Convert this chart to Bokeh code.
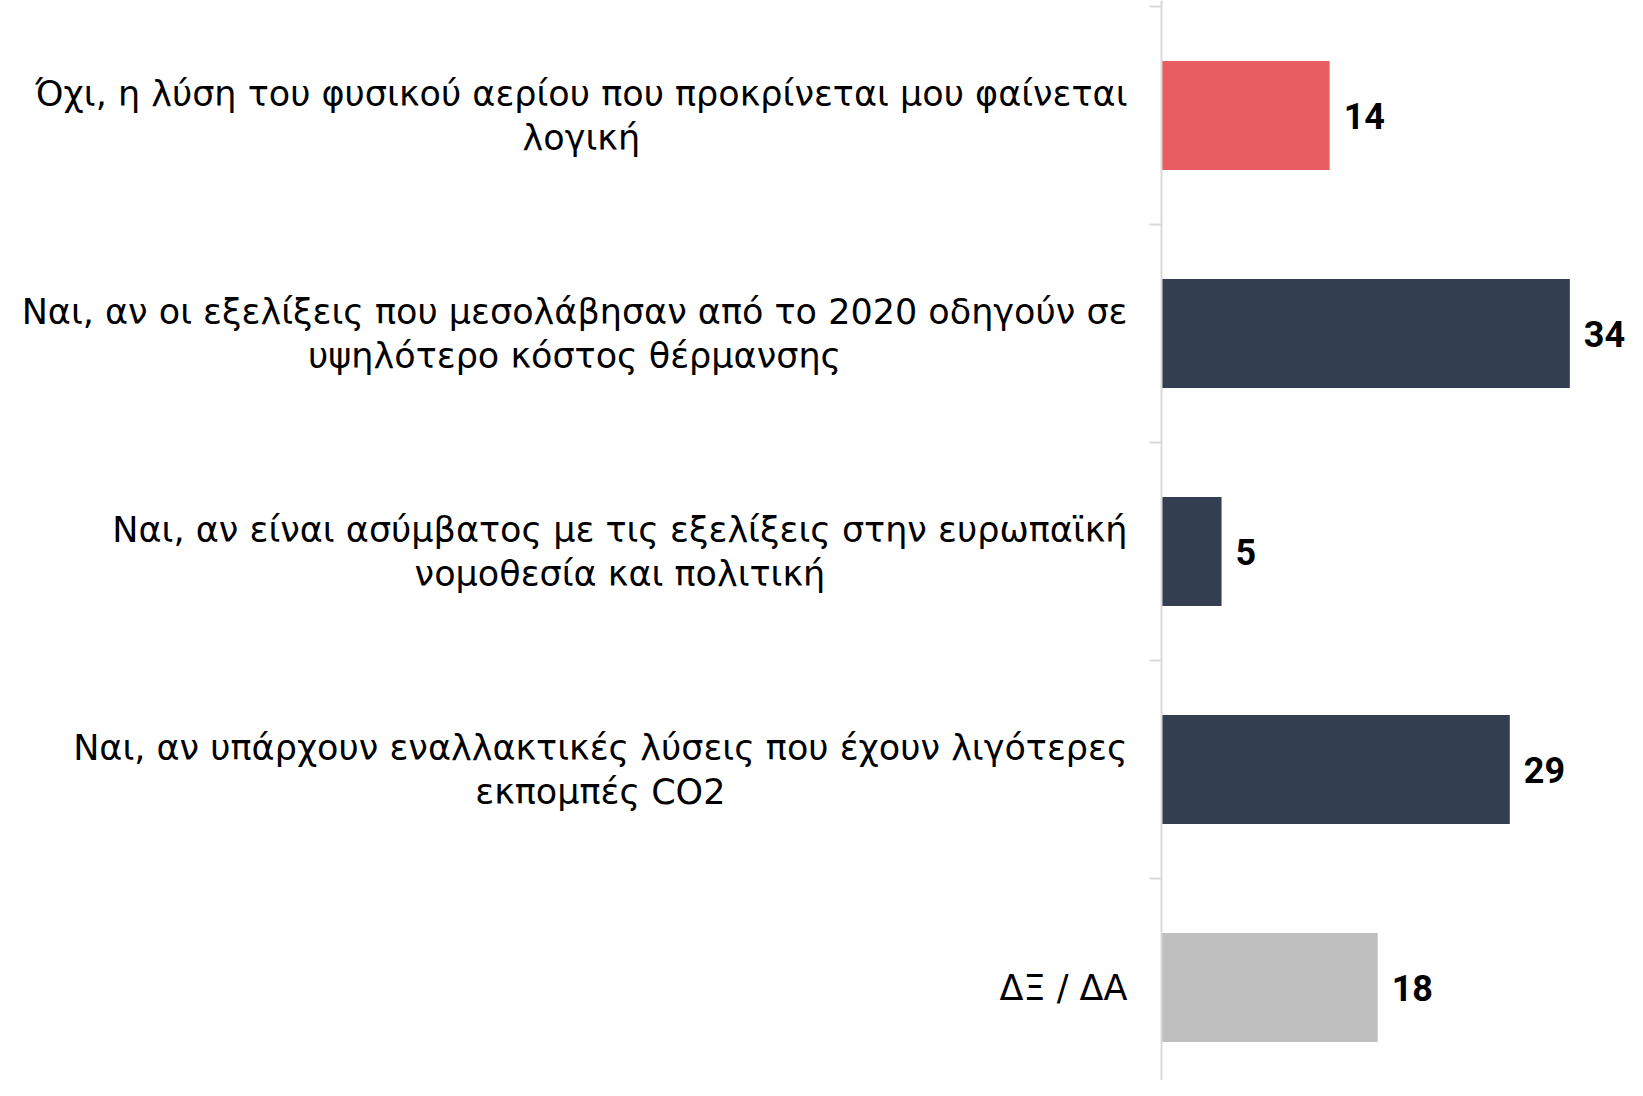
from bokeh.plotting import figure
from bokeh.layouts import row
from bokeh.models import Range1d, FixedTicker, ColumnDataSource
from bokeh.core.properties import value
from bokeh.embed import file_html
from bokeh.resources import INLINE

categories = [
    "Όχι, η λύση του φυσικού αερίου που προκρίνεται μου φαίνεται\nλογική",
    "Ναι, αν οι εξελίξεις που μεσολάβησαν από το 2020 οδηγούν σε\nυψηλότερο κόστος θέρμανσης",
    "Ναι, αν είναι ασύμβατος με τις εξελίξεις στην ευρωπαϊκή\nνομοθεσία και πολιτική",
    "Ναι, αν υπάρχουν εναλλακτικές λύσεις που έχουν λιγότερες\nεκπομπές CO2",
    "ΔΞ / ΔΑ",
]
values = [14, 34, 5, 29, 18]
colors = ["#E85D61", "#333F50", "#333F50", "#333F50", "#BFBFBF"]

n = len(categories)
ypos = [i + 0.5 for i in range(n)]
src = ColumnDataSource(dict(cat=categories, val=values, color=colors, y=ypos,
                            lbl=[str(v) for v in values]))

H = 1080
BAND = 218
TOP = -6 / BAND
y_range = Range1d(TOP + H / BAND, TOP)

LABEL_FONT = "DejaVu Sans"

# left: category labels
LW = 1149
left = figure(width=LW, height=H, x_range=Range1d(0, LW), y_range=y_range,
              output_backend="svg", toolbar_location=None, min_border=0)
left.axis.visible = False
left.grid.visible = False
left.outline_line_color = None
left.text(x=1127, y="y", text="cat", source=src, text_align="center",
          anchor=value("center_right"), text_baseline="middle",
          text_font=value(LABEL_FONT), text_font_size="35px",
          text_color="#000000", text_line_height=1.1)

# right: bars
right = figure(width=1627 - LW, height=H, x_range=Range1d(0, 38.8), y_range=y_range,
               output_backend="svg", toolbar_location=None, min_border=0)
right.hbar(y="y", right="val", left=0, height=0.5, color="color", source=src,
           line_color=None)
right.text(x="val", y="y", text="lbl", source=src, x_offset=14,
           text_baseline="middle", text_align="left",
           text_font=value("Roboto"), text_font_style="bold",
           text_font_size="36px", text_color="#000000")
right.xaxis.visible = False
right.grid.visible = False
right.outline_line_color = None
yax = right.yaxis[0]
yax.ticker = FixedTicker(ticks=list(range(n + 1)))
yax.major_label_overrides = {i: "" for i in range(n + 1)}
yax.major_label_standoff = 0
yax.major_tick_out = 12
yax.major_tick_in = 0
yax.minor_tick_out = 0
yax.minor_tick_in = 0
yax.axis_line_color = "#D9D9D9"
yax.axis_line_width = 2
yax.major_tick_line_color = "#D9D9D9"
yax.major_tick_line_width = 2

layout = row(left, right, spacing=0)
open("out.html", "w").write(file_html(layout, INLINE))
